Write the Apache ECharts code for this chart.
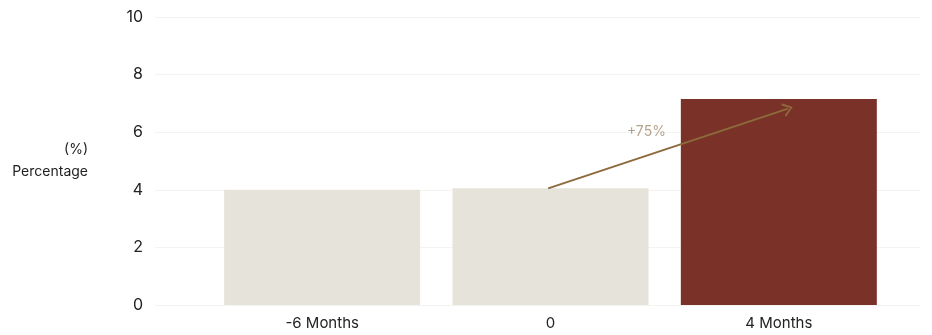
<!DOCTYPE html>
<html>
<head>
<meta charset="utf-8">
<script src="https://cdn.jsdelivr.net/npm/echarts@6/dist/echarts.min.js"></script>
<style>
  html, body { margin: 0; padding: 0; background: #fff; }
  #chart { width: 932px; height: 335px; }
</style>
</head>
<body>
<div id="chart"></div>
<script>
  const categories = ['-6 Months', '0', '4 Months'];
  const values = [4.0, 4.05, 7.15];
  const yTicks = [0, 2, 4, 6, 8, 10];
  // arrow from the "0" bar towards the 4 month bar
  const arrowFrom = [0.99, 4.05];
  const arrowTo = [2.04, 6.82];
  const arrowLabel = '+75%';
  const labelAt = [1.42, 6.02];

  const light = '#e5e3da';
  const dark = '#7a3228';
  const arrowColor = '#8c6a3c';

  let chart = echarts.init(document.getElementById('chart'));
  chart.setOption({
    animation: false,
    textStyle: { fontFamily: 'Inter, "Noto Sans", sans-serif' },
    grid: [
      { left: 208, right: 39, top: 17, bottom: 30 },
      { left: 155, right: 12, top: 17, bottom: 30 }
    ],
    xAxis: [
      {
        type: 'category', data: categories, gridIndex: 0,
        axisLine: { show: false }, axisTick: { show: false },
        axisLabel: { color: '#222', fontSize: 15, margin: 11 }
      },
      { type: 'value', gridIndex: 0, min: -0.5, max: 2.5, show: false },
      { type: 'value', gridIndex: 1, min: 0, max: 1, show: false }
    ],
    yAxis: [
      { type: 'value', gridIndex: 0, min: 0, max: yTicks[yTicks.length - 1], interval: 2, show: false },
      {
        type: 'value', gridIndex: 1, min: 0, max: yTicks[yTicks.length - 1], interval: 2,
        axisLine: { show: false }, axisTick: { show: false },
        axisLabel: { color: '#222', fontSize: 16, margin: 12 },
        splitLine: { lineStyle: { color: '#f3f3f1', width: 1 } },
        name: '(%)\nPercentage',
        nameLocation: 'middle', nameRotate: 0, nameGap: 67,
        nameTextStyle: { color: '#222', fontSize: 14, align: 'right', lineHeight: 22, verticalAlign: 'middle' }
      }
    ],
    series: [
      {
        type: 'bar', xAxisIndex: 0, yAxisIndex: 0,
        barWidth: 196,
        data: values.map((v, i) => ({
          value: v,
          itemStyle: { color: i === values.length - 1 ? dark : light }
        }))
      },
      {
        type: 'line', xAxisIndex: 1, yAxisIndex: 0,
        data: [], silent: true,
        markLine: {
          silent: true,
          symbol: ['none', 'path://M0,10 L5,0 L10,10 L8.6,10.6 L5,3 L1.4,10.6 Z'],
          symbolSize: [14, 10],
          label: { show: false },
          lineStyle: { color: arrowColor, width: 2, type: 'solid' },
          data: [[{ coord: arrowFrom }, { coord: arrowTo }]]
        }
      },
      {
        type: 'scatter', xAxisIndex: 1, yAxisIndex: 0,
        symbolSize: 0, silent: true,
        data: [labelAt],
        label: {
          show: true, position: 'inside', formatter: arrowLabel,
          color: '#a38b6e', fontSize: 14
        }
      }
    ]
  });
</script>
</body>
</html>
